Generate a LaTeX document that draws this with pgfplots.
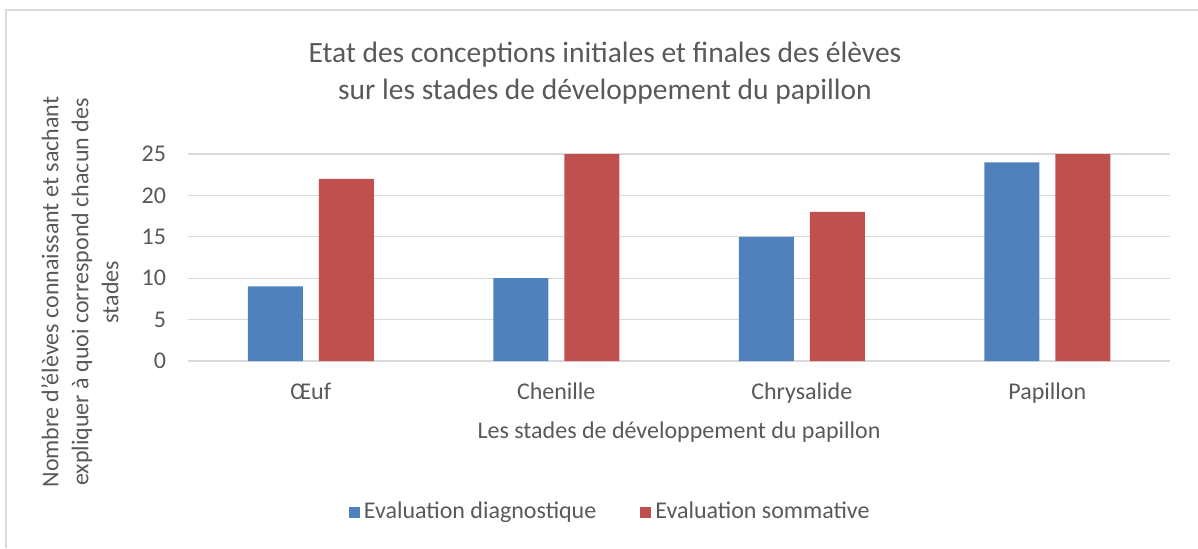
\documentclass[border=0pt]{standalone}
\usepackage{fontspec}
\setmainfont{Carlito}
\usepackage{pgfplots}
\pgfplotsset{compat=1.18}
\definecolor{txtgray}{HTML}{595959}
\definecolor{gridgray}{HTML}{D9D9D9}
\definecolor{xlblue}{HTML}{4F81BD}
\definecolor{xlred}{HTML}{C0504D}

\begin{document}
\begin{tikzpicture}
% frame of the whole chart (1px = 0.5pt)
\path[use as bounding box] (0,0) rectangle (599pt,274pt);
\draw[gridgray, line width=0.8pt] (3pt,0) -- (3pt,269pt) -- (599pt,269pt);
\begin{axis}[
    at={(94pt,93.5pt)}, anchor=south west,
    scale only axis, width=491pt, height=103.5pt,
    ybar=8pt, bar width=27.5pt,
    xmin=-0.5, xmax=3.5,
    ymin=0, ymax=25,
    xtick=data,
    xticklabels={Œuf,Chenille,Chrysalide,Papillon},
    ytick={0,5,...,25},
    major tick length=0pt,
    axis line style={draw=none},
    ymajorgrids=true,
    grid style={gridgray, line width=0.6pt},
    /pgf/number format/assume math mode=true,
    every tick label/.append style={font=\fontsize{12}{14}\selectfont, text=txtgray},
    xticklabel style={anchor=base, yshift=-19pt},
    yticklabel style={anchor=east, xshift=-7.5pt},
    title={Etat des conceptions initiales et finales des élèves\\sur les stades de développement du papillon},
    title style={at={(axis description cs:0.4246,1.331)}, anchor=center, align=center,
        font=\fontsize{14.75}{18.5}\selectfont, text=txtgray},
    xlabel={Les stades de développement du papillon},
    xlabel style={at={(axis description cs:0.5,-0.343)}, anchor=center,
        font=\fontsize{12}{14}\selectfont, text=txtgray},
    ylabel={Nombre d'élèves connaissant et sachant\\expliquer à quoi correspond chacun des\\stades},
    ylabel style={at={(axis description cs:-0.110,0.333)}, anchor=center, align=center,
        font=\fontsize{12}{15}\selectfont, text=txtgray},
    legend style={at={(axis description cs:0.431,-0.73)}, anchor=center,
        draw=none, fill=none, legend columns=2,
        font=\fontsize{12}{14}\selectfont, text=txtgray,
        /tikz/every even column/.append style={column sep=20pt}},
    legend image code/.code={\fill[#1] (0pt,-2.75pt) rectangle (5.5pt,2.75pt);},
]
\addplot[fill=xlblue, draw=none] coordinates {(0,9) (1,10) (2,15) (3,24)};
\addplot[fill=xlred, draw=none] coordinates {(0,22) (1,25) (2,18) (3,25)};
\legend{Evaluation diagnostique, Evaluation sommative}
\end{axis}
\end{tikzpicture}
\end{document}
